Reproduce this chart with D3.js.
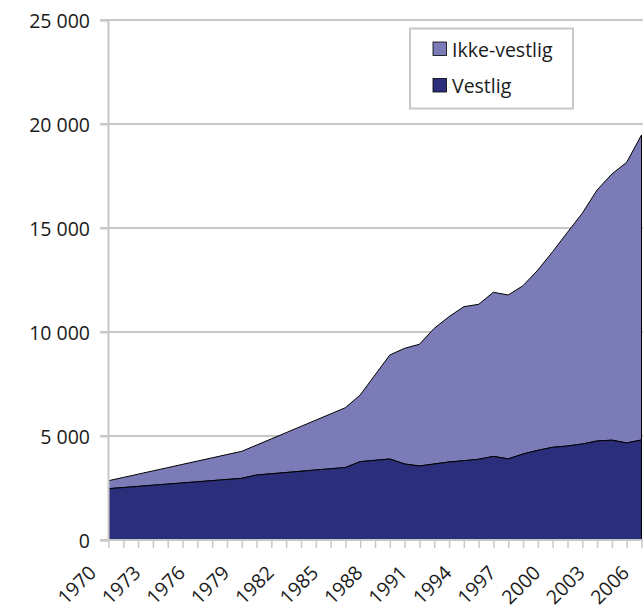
<!DOCTYPE html>
<html><head><meta charset="utf-8">
<script src="https://cdn.jsdelivr.net/npm/d3@7"></script>
<style>
html,body{margin:0;padding:0;background:#fff;}
text{font-family:"Open Sans",sans-serif;}
</style></head>
<body><svg id="c" width="643" height="609"></svg>
<script>
const years = d3.range(1970, 2007);
const vestlig = [2467,2522,2578,2633,2688,2744,2799,2854,2910,2965,
  3125,3185,3245,3305,3366,3426,3486,3766,3830,3894,
  3654,3558,3654,3750,3813,3880,4020,3900,4135,4310,
  4457,4519,4616,4760,4800,4665,4808];
const ikkeVestlig = [384,486,587,689,791,892,994,1096,1197,1298,
  1438,1677,1917,2157,2396,2635,2875,3206,4103,5001,
  5562,5851,6524,6988,7405,7451,7889,7880,8093,8672,
  9405,10275,11092,12068,12797,13495,14664];
const seriesNames = ["Vestlig","Ikke-vestlig"];
const colors = {"Vestlig":"#2a2e7b","Ikke-vestlig":"#7b7bb8"};
const yTicks = [0,5000,10000,15000,20000,25000];
const xLabelYears = d3.range(1970, 2007, 3);

const svg = d3.select("#c");
const x = d3.scalePoint().domain(years).range([108.5, 641.5]);
const y = d3.scaleLinear().domain([0,25000]).range([540,20]);
const fmt = v => d3.format(",")(v).replace(/,/g, " ");

const rows = years.map((yr,i)=>({year:yr,"Vestlig":vestlig[i],"Ikke-vestlig":ikkeVestlig[i]}));
const stacked = d3.stack().keys(seriesNames)(rows);

// gridlines
svg.append("g").selectAll("line").data(yTicks.filter(d=>d>0)).join("line")
  .attr("x1",100).attr("x2",643).attr("y1",d=>y(d)).attr("y2",d=>y(d))
  .attr("stroke","#c8c8c8").attr("stroke-width",2);

// areas
const area = d3.area().x(d=>x(d.data.year)).y0(d=>y(d[0])).y1(d=>y(d[1]));
svg.append("g").selectAll("path").data(stacked.slice().reverse()).join("path")
  .attr("d",area).attr("fill",d=>colors[d.key])
  .attr("stroke","#000").attr("stroke-width",1).attr("stroke-linejoin","round");

// y axis
const ya = d3.axisLeft(y).tickValues(yTicks).tickFormat(fmt).tickSize(8).tickPadding(10);
const gy = svg.append("g").attr("transform","translate(108,0)").call(ya);
gy.select(".domain").attr("stroke","#c8c8c8").attr("stroke-width",2);
gy.selectAll(".tick line").attr("stroke","#c8c8c8").attr("stroke-width",2);
gy.selectAll("text").attr("font-size",19.5).attr("fill","#1a1a1a")
  .attr("font-family","'Open Sans',sans-serif").attr("dy","0.36em");

// x axis
const xa = d3.axisBottom(x).tickValues(years).tickFormat("").tickSize(8).tickSizeOuter(0);
const gx = svg.append("g").attr("transform","translate(0,540)").call(xa);
gx.select(".domain").attr("stroke","#c8c8c8").attr("stroke-width",2).attr("d","M100,0H643");
gx.selectAll(".tick line").attr("stroke","#c8c8c8").attr("stroke-width",1.5);

svg.append("g").selectAll("text").data(xLabelYears).join("text")
  .attr("transform",d=>`translate(${x(d)-11},574) rotate(-45)`)
  .attr("text-anchor","end").attr("font-size",19.5).attr("fill","#1a1a1a")
  .text(d=>d);

// legend
const lg = svg.append("g");
lg.append("rect").attr("x",410).attr("y",28.5).attr("width",163).attr("height",80)
  .attr("fill","#fff").attr("stroke","#c8c8c8").attr("stroke-width",2);
const legendItems = ["Ikke-vestlig","Vestlig"];
legendItems.forEach((k,i)=>{
  lg.append("rect").attr("x",433).attr("y",42+i*36.5).attr("width",13.5).attr("height",13.5)
    .attr("fill",colors[k]).attr("stroke","#000").attr("stroke-width",0.8);
  lg.append("text").attr("x",452).attr("y",56.5+i*36.5).attr("font-size",19.5)
    .attr("fill","#1a1a1a").text(k);
});
</script></body></html>
